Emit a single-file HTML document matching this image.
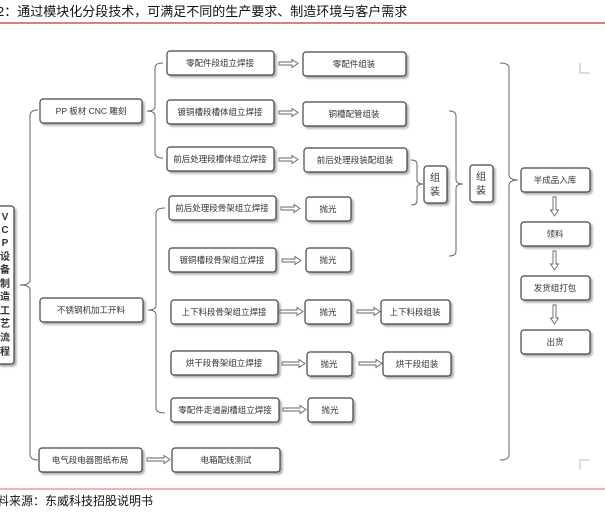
<!DOCTYPE html>
<html><head><meta charset="utf-8"><style>
html,body{margin:0;padding:0;background:#fff;width:605px;height:524px;overflow:hidden}
svg{display:block}
text{font-family:"Liberation Sans","Noto Sans CJK SC",sans-serif;fill:#333}
</style></head><body>
<svg width="605" height="524" viewBox="0 0 605 524" xmlns="http://www.w3.org/2000/svg">
<defs>
<g id="ah"></g>
</defs>
<!-- header -->
<text x="-3" y="16" font-size="13" style="fill:#111">2：通过模块化分段技术，可满足不同的生产要求、制造环境与客户需求</text>
<line x1="0" y1="23" x2="605" y2="23" stroke="#c0392b" stroke-width="1.2"/>
<!-- footer -->
<line x1="0" y1="489" x2="605" y2="489" stroke="#e06666" stroke-width="1"/>
<text x="-3" y="505" font-size="12" style="fill:#111">料来源：东威科技招股说明书</text>

<g fill="none" stroke="#666" stroke-width="1">
<!-- main bracket -->
<path d="M38,110 Q30,110 30,116 L30,280 Q30,285 20,285 Q30,285 30,290 L30,454 Q30,460 38,460"/>
<!-- bracket PP -->
<path d="M163,63 Q155,63 155,68 L155,106 Q155,111 147,111 Q155,111 155,116 L155,153 Q155,158 163,158"/>
<!-- bracket stainless -->
<path d="M165,208 Q156,208 156,213 L156,305 Q156,310 148,310 Q156,310 156,315 L156,408 Q156,413 165,413"/>
<!-- bracket 组装1 -->
<path d="M411,160 Q417,160 417,164 L417,180 Q417,184 423,184 Q417,184 417,188 L417,201 Q417,205 411,205"/>
<!-- bracket 组装2 -->
<path d="M449,111 Q456,111 456,116 L456,179 Q456,184 463,184 Q456,184 456,189 L456,251 Q456,256 449,256"/>
<!-- big bracket -->
<path d="M500,63 Q509,63 509,68 L509,174 Q509,180 518,180 Q509,180 509,186 L509,455 Q509,460 500,460"/>
<!-- corner marks -->
<path d="M580,63 L580,73 L590,73" stroke="#bbb"/>
<path d="M580,470 L580,460 L590,460" stroke="#bbb"/>
</g>

<!-- boxes -->
<g fill="#fff" stroke="#444" stroke-width="1.2">
<g style="filter:drop-shadow(2px 2px 1px #aaa)">
<rect x="-3" y="206" width="17" height="158" rx="3"/>
<rect x="40" y="99" width="102" height="24" rx="3"/>
<rect x="40" y="298" width="103" height="24" rx="3"/>
<rect x="39" y="448" width="103" height="24" rx="3"/>

<rect x="167" y="51" width="107" height="24" rx="3"/>
<rect x="167" y="100" width="107" height="24" rx="3"/>
<rect x="167" y="147" width="107" height="24" rx="3"/>
<rect x="303" y="52" width="103" height="24" rx="3"/>
<rect x="303" y="102" width="103" height="24" rx="3"/>
<rect x="304" y="148" width="103" height="24" rx="3"/>

<rect x="169" y="196" width="107" height="24" rx="3"/>
<rect x="169" y="248" width="107" height="24" rx="3"/>
<rect x="171" y="300" width="107" height="24" rx="3"/>
<rect x="171" y="351" width="107" height="24" rx="3"/>
<rect x="171" y="398" width="108" height="24" rx="3"/>

<rect x="306" y="197" width="45" height="24" rx="3"/>
<rect x="306" y="248" width="45" height="24" rx="3"/>
<rect x="305" y="300" width="46" height="24" rx="3"/>
<rect x="307" y="352" width="45" height="24" rx="3"/>
<rect x="308" y="398" width="45" height="24" rx="3"/>

<rect x="381" y="300" width="69" height="24" rx="3"/>
<rect x="383" y="352" width="68" height="24" rx="3"/>
<rect x="172" y="448" width="108" height="24" rx="3"/>

<rect x="424" y="166" width="23" height="37" rx="3"/>
<rect x="470" y="165" width="23" height="37" rx="3"/>

<rect x="521" y="168" width="69" height="24" rx="3"/>
<rect x="521" y="222" width="69" height="24" rx="3"/>
<rect x="521" y="276" width="69" height="24" rx="3"/>
<rect x="521" y="330" width="69" height="24" rx="3"/>
</g>
</g>

<!-- arrows horizontal -->
<g fill="#fff" stroke="#666" stroke-width="0.9">
<path d="M279,62 h13 v-2.5 l6,4 l-6,4 v-2.5 h-13 z"/>
<path d="M279,111 h13 v-2.5 l6,4 l-6,4 v-2.5 h-13 z"/>
<path d="M279,158 h13 v-2.5 l6,4 l-6,4 v-2.5 h-13 z"/>
<path d="M281,207 h13 v-2.5 l6,4 l-6,4 v-2.5 h-13 z"/>
<path d="M282,259 h13 v-2.5 l6,4 l-6,4 v-2.5 h-13 z"/>
<path d="M280,310 h17 v-2.5 l6,4 l-6,4 v-2.5 h-17 z"/>
<path d="M357,310 h17 v-2.5 l6,4 l-6,4 v-2.5 h-17 z"/>
<path d="M282,362 h17 v-2.5 l6,4 l-6,4 v-2.5 h-17 z"/>
<path d="M359,362 h17 v-2.5 l6,4 l-6,4 v-2.5 h-17 z"/>
<path d="M283,408 h17 v-2.5 l6,4 l-6,4 v-2.5 h-17 z"/>
<path d="M147,458 h17 v-2.5 l6,4 l-6,4 v-2.5 h-17 z"/>
<!-- vertical -->
<path d="M553,197 v13 h-2.5 l4,6 l4,-6 h-2.5 v-13 z"/>
<path d="M553,251 v13 h-2.5 l4,6 l4,-6 h-2.5 v-13 z"/>
<path d="M553,305 v13 h-2.5 l4,6 l4,-6 h-2.5 v-13 z"/>
</g>

<!-- labels -->
<g font-size="8.5" text-anchor="middle">
<text x="91" y="114">PP 板材 CNC 雕刻</text>
<text x="91" y="313">不锈钢机加工开料</text>
<text x="90" y="463">电气段电器图纸布局</text>
<text x="220" y="66">零配件段组立焊接</text>
<text x="220" y="115">镀铜槽段槽体组立焊接</text>
<text x="220" y="162">前后处理段槽体组立焊接</text>
<text x="354" y="67">零配件组装</text>
<text x="354" y="117">铜槽配管组装</text>
<text x="355" y="163">前后处理段装配组装</text>
<text x="222" y="211">前后处理段骨架组立焊接</text>
<text x="222" y="263">镀铜槽段骨架组立焊接</text>
<text x="224" y="315">上下料段骨架组立焊接</text>
<text x="224" y="366">烘干段骨架组立焊接</text>
<text x="225" y="413">零配件走道副槽组立焊接</text>
<text x="328" y="212">抛光</text>
<text x="328" y="263">抛光</text>
<text x="328" y="315">抛光</text>
<text x="329" y="367">抛光</text>
<text x="330" y="413">抛光</text>
<text x="415" y="315">上下料段组装</text>
<text x="417" y="367">烘干段组装</text>
<text x="226" y="463">电箱配线测试</text>
<text x="555" y="183">半成品入库</text>
<text x="555" y="237">领料</text>
<text x="555" y="291">发货组打包</text>
<text x="555" y="345">出货</text>
<text x="435" y="181" font-size="10">组</text>
<text x="435" y="195" font-size="10">装</text>
<text x="481" y="180" font-size="10">组</text>
<text x="481" y="194" font-size="10">装</text>
</g>
<g font-size="10" text-anchor="middle" font-weight="bold" style="font-family:'Liberation Serif','Noto Serif CJK SC',serif">
<text x="5" y="220">V</text>
<text x="5" y="233">C</text>
<text x="5" y="246">P</text>
<text x="5" y="260">设</text>
<text x="5" y="273">备</text>
<text x="5" y="287">制</text>
<text x="5" y="300">造</text>
<text x="5" y="314">工</text>
<text x="5" y="327">艺</text>
<text x="5" y="341">流</text>
<text x="5" y="355">程</text>
</g>
</svg>
</body></html>
